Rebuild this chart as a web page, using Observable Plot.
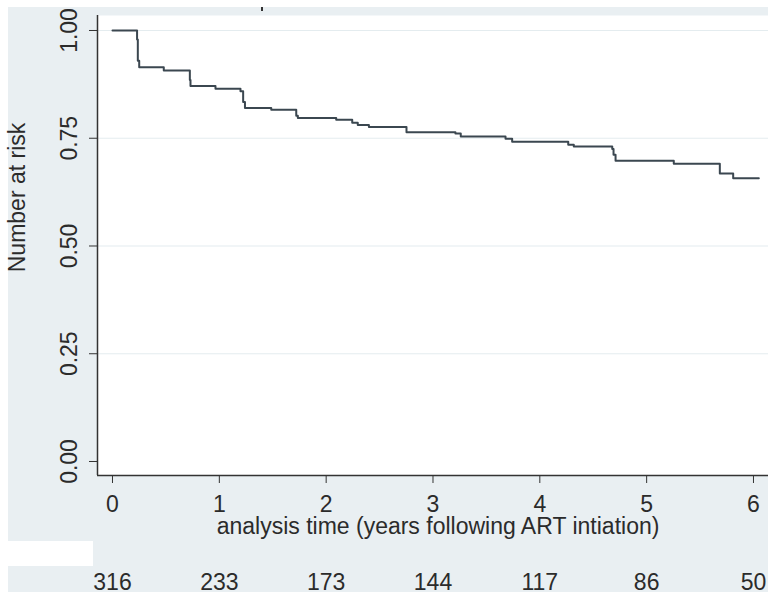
<!DOCTYPE html>
<html><head><meta charset="utf-8">
<script src="https://cdn.jsdelivr.net/npm/d3@7"></script>
<script src="https://cdn.jsdelivr.net/npm/@observablehq/plot@0.6"></script>
<style>
body{margin:0;background:#fff;}
#wrap{position:relative;width:768px;height:592px;background:#e9eff2;overflow:hidden;}
#wrap svg{position:absolute;left:0;top:0;}
.w{position:absolute;background:#fff;}
</style></head><body>
<div id="wrap">
<div class="w" style="left:0;top:0;width:768px;height:7px"></div>
<div class="w" style="left:0;top:0;width:8px;height:592px"></div>
<div class="w" style="left:0;top:541px;width:93px;height:25px"></div>
<div style="position:absolute;left:261px;top:7px;width:2px;height:4px;background:#333"></div>
</div>
<script>
// Kaplan-Meier step curve (years, survival)
const times = [0, 0.23, 0.237, 0.25, 0.48, 0.724, 0.73, 0.964, 1.198, 1.223, 1.24, 1.486, 1.72, 1.735, 2.094, 2.244, 2.296, 2.40, 2.752, 3.21, 3.26, 3.679, 3.741, 4.266, 4.318, 4.678, 4.69, 4.709, 5.254, 5.685, 5.81, 6.05];
const surv  = [1, 0.979, 0.93, 0.915, 0.907, 0.885, 0.871, 0.865, 0.859, 0.834, 0.820, 0.816, 0.802, 0.797, 0.793, 0.786, 0.781, 0.776, 0.764, 0.761, 0.754, 0.749, 0.742, 0.735, 0.731, 0.725, 0.712, 0.698, 0.691, 0.668, 0.657, 0.657];
// Number at risk row
const riskTimes = [0, 1, 2, 3, 4, 5, 6];
const riskN = [316, 233, 173, 144, 117, 86, 50];
// Ticks and labels
const xTicks = [0, 1, 2, 3, 4, 5, 6];
const yTicks = [0, 0.25, 0.5, 0.75, 1];
const gridY = [0.25, 0.5, 0.75, 1];
const xTitle = "analysis time (years following ART intiation)";
const yTitle = "Number at risk";

const xDomain = [-0.1404, 6.1406];
const yDomain = [-0.0325, 1.0348];
const yMid = (yDomain[0] + yDomain[1]) / 2;
const xMid = (xDomain[0] + xDomain[1]) / 2;
const data = times.map((t, i) => ({t, s: surv[i]}));
const risk = riskTimes.map((t, i) => ({t, n: riskN[i]}));
const fmt = d3.format(".2f");
const FS = 23;

const chart = Plot.plot({
  width: 768, height: 592,
  marginLeft: 97, marginRight: 0, marginTop: 15, marginBottom: 117,
  style: {background: "transparent", fontFamily: "'Liberation Sans', Arial, sans-serif", fontSize: FS + "px", color: "#2b2b2b"},
  x: {domain: xDomain},
  y: {domain: yDomain},
  marks: [
    Plot.frame({fill: "#fff", stroke: null}),
    Plot.ruleY(gridY, {stroke: "#e4ecef", strokeWidth: 1.2}),
    Plot.line(data, {x: "t", y: "s", curve: "step-after", stroke: "#3b4750", strokeWidth: 2}),
    Plot.ruleX([xDomain[0]], {stroke: "#333", strokeWidth: 1.5}),
    Plot.ruleY([yDomain[0]], {stroke: "#333", strokeWidth: 1.5}),
    Plot.axisX({ticks: xTicks, tickSize: 8, tickPadding: 12, tickFormat: d => String(d), fontSize: FS, label: null, stroke: "#333"}),
    Plot.axisY({ticks: yTicks, tickSize: 8, tickFormat: () => "", label: null, stroke: "#333"}),
    Plot.text(yTicks, {x: () => xDomain[0], y: d => d, text: d => fmt(d), dx: -28, rotate: -90, fontSize: FS}),
    Plot.text([yTitle], {x: () => xDomain[0], y: () => yMid, text: d => d, dx: -80, dy: -48, rotate: -90, fontSize: FS}),
    Plot.text([xTitle], {x: () => xMid, y: () => yDomain[0], text: d => d, dx: 5, dy: 51, fontSize: FS}),
    Plot.text(risk, {x: "t", y: () => yDomain[0], text: "n", dy: 107, fontSize: FS})
  ]
});
document.getElementById("wrap").appendChild(chart);
</script>
</body></html>
